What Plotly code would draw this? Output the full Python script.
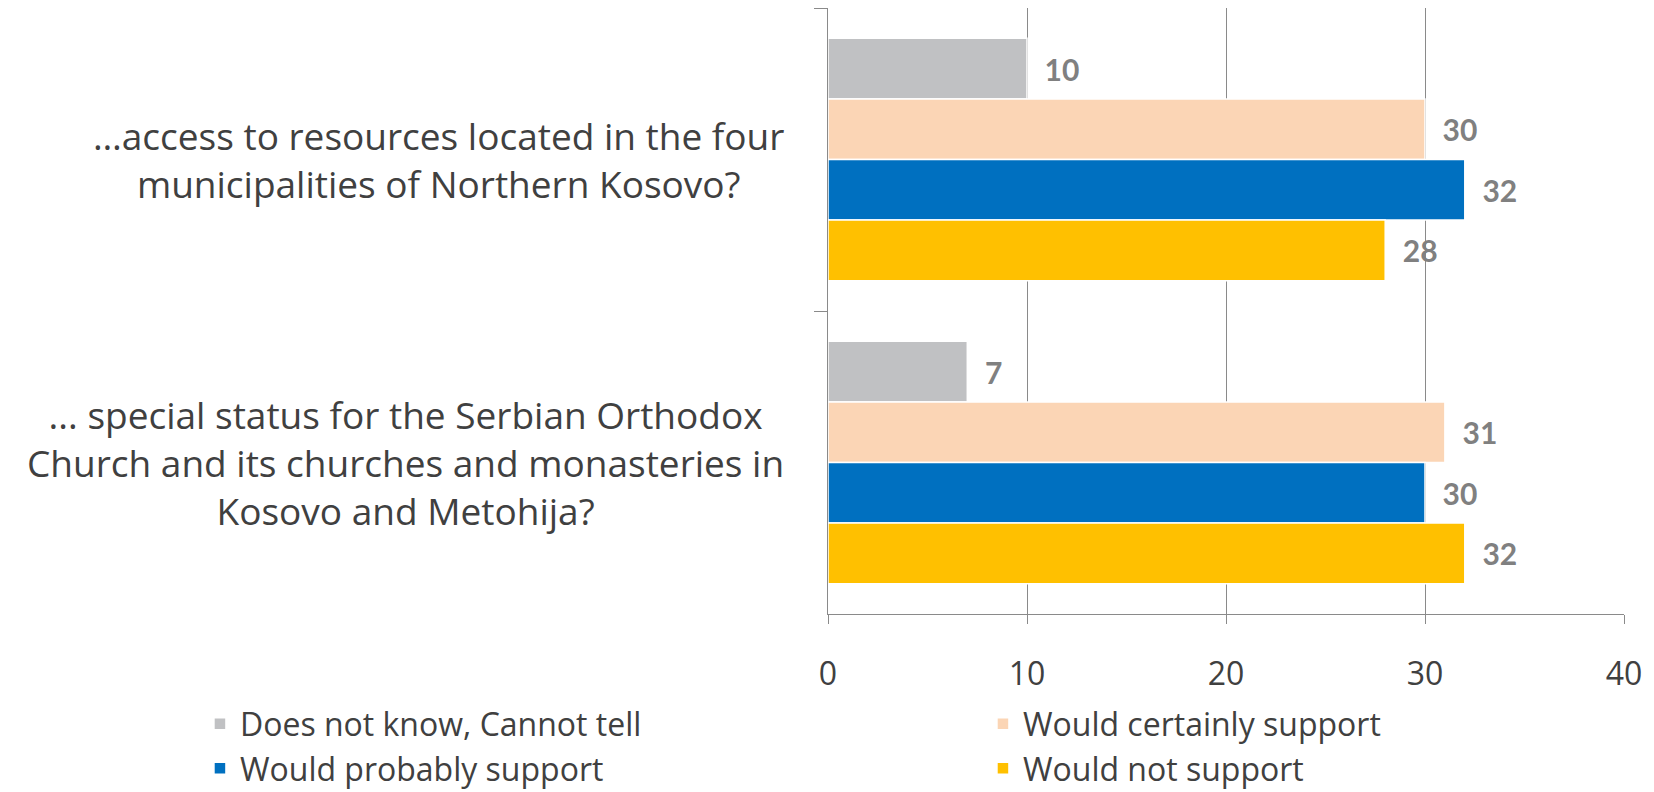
import plotly.graph_objects as go

categories = [
    "…access to resources located in the four<br>municipalities of Northern Kosovo?",
    "... special status for the Serbian Orthodox<br>Church and its churches and monasteries in<br>Kosovo and Metohija?",
]
series_names = [
    "Does not know, Cannot tell",
    "Would certainly support",
    "Would probably support",
    "Would not support",
]
dont_know = [10, 7]
certainly = [30, 31]
probably = [32, 30]
would_not = [28, 32]
x_ticks = [0, 10, 20, 30, 40]

colors = ["#C0C1C3", "#FBD5B5", "#0070C0", "#FFC000"]
values = [dont_know, certainly, probably, would_not]
cat_ids = ["c1", "c2"]

FONT = "Open Sans"
GRID = "#8a8a8a"

fig = go.Figure()
for i, (name, vals, col) in enumerate(zip(series_names, values, colors)):
    fig.add_trace(go.Bar(
        y=cat_ids, x=vals, name=name, orientation="h",
        marker=dict(color=col, line=dict(color="white", width=1.5)),
        texttemplate="\u00a0\u00a0%{x}",
        textposition="outside",
        constraintext="none",
        cliponaxis=False,
        textfont=dict(family="Lato", size=30, color="#808080", weight="bold"),
        legendwidth=(420 if i % 2 == 1 else None),
    ))

for cid, label in zip(cat_ids, categories):
    fig.add_annotation(
        x=-0.0528, xref="paper", y=cid, yref="y",
        text=label, showarrow=False, xanchor="right", yanchor="middle",
        align="center", font=dict(family=FONT, size=37, color="#404040"),
    )

fig.update_layout(
    width=1646, height=784,
    margin=dict(l=820, r=30, t=0, b=178, autoexpand=False),
    paper_bgcolor="white", plot_bgcolor="white",
    barmode="group", bargap=0.2, bargroupgap=0,
    showlegend=True,
    legend=dict(
        orientation="h", x=-0.789, xanchor="left", y=-0.136, yanchor="top",
        entrywidth=738, entrywidthmode="pixels", traceorder="normal",
        font=dict(family=FONT, size=32, color="#404040"),
        bgcolor="rgba(0,0,0,0)",
    ),
    xaxis=dict(
        range=[0, 40], tickvals=x_ticks, ticktext=[str(t) for t in x_ticks],
        showgrid=True, gridcolor=GRID, gridwidth=1.3,
        showline=True, linecolor=GRID, linewidth=1.3,
        ticks="outside", ticklen=9, tickcolor=GRID, tickwidth=1.3,
        zeroline=False, ticklabelstandoff=22,
        tickfont=dict(family=FONT, size=32, color="#404040"),
    ),
    yaxis=dict(
        type="category", autorange="reversed", categoryorder="array",
        categoryarray=cat_ids,
        showline=True, linecolor=GRID, linewidth=1.3,
        ticks="outside", tickson="boundaries", ticklen=13, tickcolor=GRID,
        tickwidth=1.3, showticklabels=False, showgrid=False, zeroline=False,
    ),
)

fig.write_html("out.html")
